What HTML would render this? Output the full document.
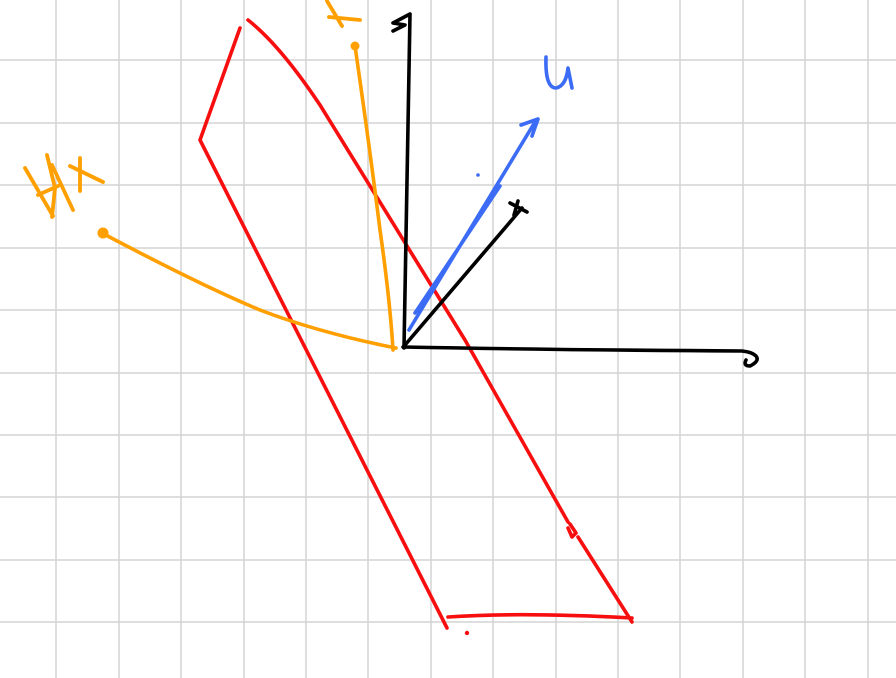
<!DOCTYPE html>
<html><head><meta charset="utf-8"><style>
html,body{margin:0;padding:0;background:#fff;}
svg{display:block;}
</style></head><body>
<svg id="c" width="896" height="678" viewBox="0 0 896 678">
<g id="grid"></g>
<g fill="none" stroke-linecap="round" stroke-linejoin="round">
<path stroke="#f70f0f" stroke-width="3.6" d="M240,28 L200,140 L447,628"/>
<path stroke="#f70f0f" stroke-width="3.6" d="M248,20 Q280,45 320,105 L465,340 L568,522 M570,524 L576,533 L572,537 L568,528 M578,537 L632,622"/>
<path stroke="#f70f0f" stroke-width="3.6" d="M448,617 Q520,612 632,618"/>
<circle cx="467" cy="633" r="2.2" fill="#f70f0f" stroke="none"/>
<path stroke="#000" stroke-width="3.6" d="M404,348 L410,14 M410,14 L393,23 L405,25 L393,31"/>
<path stroke="#000" stroke-width="3.6" d="M403,347 Q560,350 742,351 Q752,352 756,356 Q760,361 750,366 Q743,366 746,360"/>
<path stroke="#000" stroke-width="3.6" d="M405,345 L522,208 M510,203 L527,212 M518,201 L514,215"/>
<path stroke="#3c6cf5" stroke-width="3.6" d="M409,330 L535,122 M415,313 L500,186 M521,125 L538,119 L532,136"/>
<circle cx="478" cy="175" r="1.8" fill="#3c6cf5" stroke="none"/>
<path stroke="#ff9f00" stroke-width="3.6" d="M355,46 Q370,150 380,230 Q390,300 393,350"/>
<circle cx="355" cy="46" r="4.5" fill="#ff9f00" stroke="none"/>
<path stroke="#ff9f00" stroke-width="3.6" d="M102,233 Q200,285 260,310 Q320,333 396,348"/>
<circle cx="103" cy="233" r="5.5" fill="#ff9f00" stroke="none"/>
<path stroke="#ff9f00" stroke-width="3.8" d="M327,1 L342,26 M329,17 L360,20"/>
<path stroke="#ff9f00" stroke-width="3.8" d="M25,168 L53,216 M47,155 L55,188 L52,217 M38,195 L58,186 M52,165 L73,210 M80,158 L80,191 M70,166 L103,182"/>
<path stroke="#3c6cf5" stroke-width="3.6" d="M546,57 Q545,88 556,88 Q566,86 568,68 L572,88"/>
</g>
<text x="-100" y="-100" font-family="Liberation Sans, sans-serif" font-size="10" fill="#3c6cf5">u</text>
<text x="-100" y="-100" font-family="Liberation Sans, sans-serif" font-size="10" fill="#ff9f00">Hx</text>
<text x="-100" y="-100" font-family="Liberation Sans, sans-serif" font-size="10" fill="#ff9f00">x</text>
</svg>
<script>
const gridXs=[56,119,181,244,306,368,431,493,556,618,680,743,805,868];
const gridYs=[60,123,185,248,310,373,435,497,560,622];
const g=document.getElementById('grid');
const NS='http://www.w3.org/2000/svg';
gridXs.forEach(x=>{const l=document.createElementNS(NS,'line');


l.setAttribute('x1',x);l.setAttribute('x2',x);l.setAttribute('y1',0);l.setAttribute('y2',678);
l.setAttribute('stroke','#d4d4d4');l.setAttribute('stroke-width','1.5');g.appendChild(l);});
gridYs.forEach(y=>{const l=document.createElementNS(NS,'line');


l.setAttribute('y1',y);l.setAttribute('y2',y);l.setAttribute('x1',0);l.setAttribute('x2',896);
l.setAttribute('stroke','#d4d4d4');l.setAttribute('stroke-width','1.5');g.appendChild(l);});
</script>
</body></html>
